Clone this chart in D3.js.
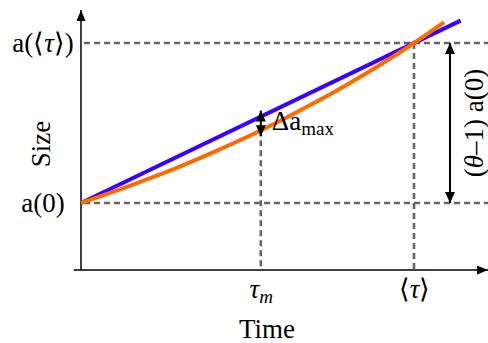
<!DOCTYPE html>
<html><head><meta charset="utf-8">
<script src="https://cdn.jsdelivr.net/npm/d3@7"></script>
<style>
html,body{margin:0;padding:0;background:#fff;}
</style></head>
<body>
<svg id="chart" width="488" height="343"></svg>
<script>
// ---- data (time in units of <tau>, size in units of a(0)) ----
const orangeTime = [0, 0.1, 0.2, 0.3, 0.4, 0.5, 0.6, 0.7, 0.8, 0.9, 1.0, 1.09];
const orangeSize = [1, 1.072, 1.149, 1.231, 1.32, 1.414, 1.516, 1.625, 1.741, 1.866, 2.0, 2.13];
const blueTime = [0, 1.14];
const blueSize = [1, 2.14];
const tauM = 0.54;          // time of max difference
const tauMean = 1.0;        // <tau>
const sizeAtTauM = [1.54, 1.455]; // blue, orange at tau_m
const theta = 2.0;          // a(<tau>) / a(0)
const xTickValues = [tauM, tauMean];
const xTickLabels = ["tau_m", "<tau>"];
const yTickValues = [1, theta];
const yTickLabels = ["a(0)", "a(⟨τ⟩)"];

const FONT = '"Liberation Serif"';
const FS = 27;
const svg = d3.select("#chart");
const x = d3.scaleLinear().domain([0, 1]).range([81, 414]);
const y = d3.scaleLinear().domain([1, 2]).range([203, 43]);
const xMin = x.invert(74), xMax = x.invert(488);
const yMin = y.invert(270), yMax = y.invert(10);

const defs = svg.append("defs");
function marker(id, w, l, orient){
  defs.append("marker").attr("id", id)
    .attr("viewBox", `0 ${-w/2} ${l} ${w}`)
    .attr("refX", l).attr("refY", 0)
    .attr("markerUnits", "userSpaceOnUse")
    .attr("markerWidth", l).attr("markerHeight", w)
    .attr("orient", orient)
    .append("path").attr("d", `M0,${-w/2}L${l},0L0,${w/2}Z`).attr("fill", "#000");
}
marker("axArrow", 9, 11, "auto");
marker("dArrow", 10, 11, "auto-start-reverse");

const gray = "#666666";
// horizontal dashed lines
svg.selectAll("line.hd").data(yTickValues).join("line").attr("class","hd")
  .attr("x1", x(0) + 3).attr("x2", 488)
  .attr("y1", d => y(d)).attr("y2", d => y(d))
  .attr("stroke", gray).attr("stroke-width", 2.6).attr("stroke-dasharray", "6,4");
// vertical dashed lines
svg.append("line").attr("x1", x(tauM)).attr("x2", x(tauM))
  .attr("y1", y(sizeAtTauM[1])).attr("y2", y(yMin))
  .attr("stroke", gray).attr("stroke-width", 2.6).attr("stroke-dasharray", "6,4");
svg.append("line").attr("x1", x(tauMean)).attr("x2", x(tauMean))
  .attr("y1", y(theta)).attr("y2", y(yMin))
  .attr("stroke", gray).attr("stroke-width", 2.6).attr("stroke-dasharray", "6,4");

// axes lines
svg.append("line").attr("x1", x(xMin)).attr("x2", x(xMax))
  .attr("y1", y(yMin)).attr("y2", y(yMin))
  .attr("stroke", "#000").attr("stroke-width", 1.5).attr("marker-end", "url(#axArrow)");
svg.append("line").attr("x1", x(0)).attr("x2", x(0))
  .attr("y1", y(yMin)).attr("y2", y(yMax))
  .attr("stroke", "#000").attr("stroke-width", 1.5).attr("marker-end", "url(#axArrow)");

// curves
const line = d3.line().x(d => x(d[0])).y(d => y(d[1])).curve(d3.curveNatural);
svg.append("path").datum(blueTime.map((t, i) => [t, blueSize[i]]))
  .attr("d", line).attr("fill", "none").attr("stroke", "#3a00ff").attr("stroke-width", 4);
svg.append("path").datum(orangeTime.map((t, i) => [t, orangeSize[i]]))
  .attr("d", line).attr("fill", "none").attr("stroke", "#ff6a00").attr("stroke-width", 4);

// x axis tick labels
const xAxis = d3.axisBottom(x).tickValues(xTickValues).tickSize(0).tickPadding(9)
  .tickFormat((d, i) => xTickLabels[i]);
const gx = svg.append("g").attr("transform", `translate(0,${y(yMin)})`).call(xAxis);
gx.select(".domain").remove();
gx.selectAll("text").style("font-family", FONT).attr("font-size", FS).attr("fill", "#000")
  .each(function(d, i){
    const t = d3.select(this); t.text(null);
    if (i === 0){
      t.append("tspan").attr("font-style", "italic").text("τ");
      t.append("tspan").attr("font-style", "italic").attr("font-size", 19).attr("dy", 5).text("m");
    } else {
      t.append("tspan").text("⟨");
      t.append("tspan").attr("font-style", "italic").text("τ");
      t.append("tspan").text("⟩");
    }
  });

// y axis tick labels
const yAxis = d3.axisLeft(y).tickValues(yTickValues).tickSize(0).tickPadding(0)
  .tickFormat((d, i) => yTickLabels[i]);
const gy = svg.append("g").attr("transform", `translate(${x(0)},0)`).call(yAxis);
gy.select(".domain").remove();
gy.selectAll("text").style("font-family", FONT).attr("font-size", FS).attr("fill", "#000")
  .attr("text-anchor", "middle").attr("x", -38).attr("dy", "0.3em")
  .each(function(d, i){
    const t = d3.select(this);
    if (i === 1){
      t.text(null);
      t.append("tspan").text("a(⟨");
      t.append("tspan").attr("font-style", "italic").text("τ");
      t.append("tspan").text("⟩)");
    }
  });

// axis titles
svg.append("text").style("font-family", FONT).attr("x", 267).attr("y", 338).attr("text-anchor", "middle")
  .attr("font-size", FS).text("Time");
svg.append("text").style("font-family", FONT).attr("transform", "translate(50,144) rotate(-90)").attr("text-anchor", "middle")
  .attr("font-size", FS).text("Size");

// delta a_max arrow
svg.append("line").attr("x1", x(tauM)).attr("x2", x(tauM))
  .attr("y1", y(sizeAtTauM[0]) - 6).attr("y2", y(sizeAtTauM[1]) + 6)
  .attr("stroke", "#000").attr("stroke-width", 2)
  .attr("marker-start", "url(#dArrow)").attr("marker-end", "url(#dArrow)");
const dl = svg.append("text").style("font-family", FONT).attr("x", x(tauM) + 11).attr("y", 130).attr("font-size", FS);
dl.append("tspan").text("Δa");
dl.append("tspan").attr("font-size", 19).attr("dy", 5).text("max");

// (theta-1) a(0) arrow
svg.append("line").attr("x1", 450).attr("x2", 450)
  .attr("y1", y(theta)).attr("y2", y(1))
  .attr("stroke", "#000").attr("stroke-width", 2)
  .attr("marker-start", "url(#dArrow)").attr("marker-end", "url(#dArrow)");
const rl = svg.append("text").style("font-family", FONT).attr("transform", `translate(483,${y(1.5)}) rotate(-90)`)
  .attr("text-anchor", "middle").attr("font-size", FS);
rl.append("tspan").text("(");
rl.append("tspan").attr("font-style", "italic").text("θ");
rl.append("tspan").text("–1) a(0)");
</script>
</body></html>
